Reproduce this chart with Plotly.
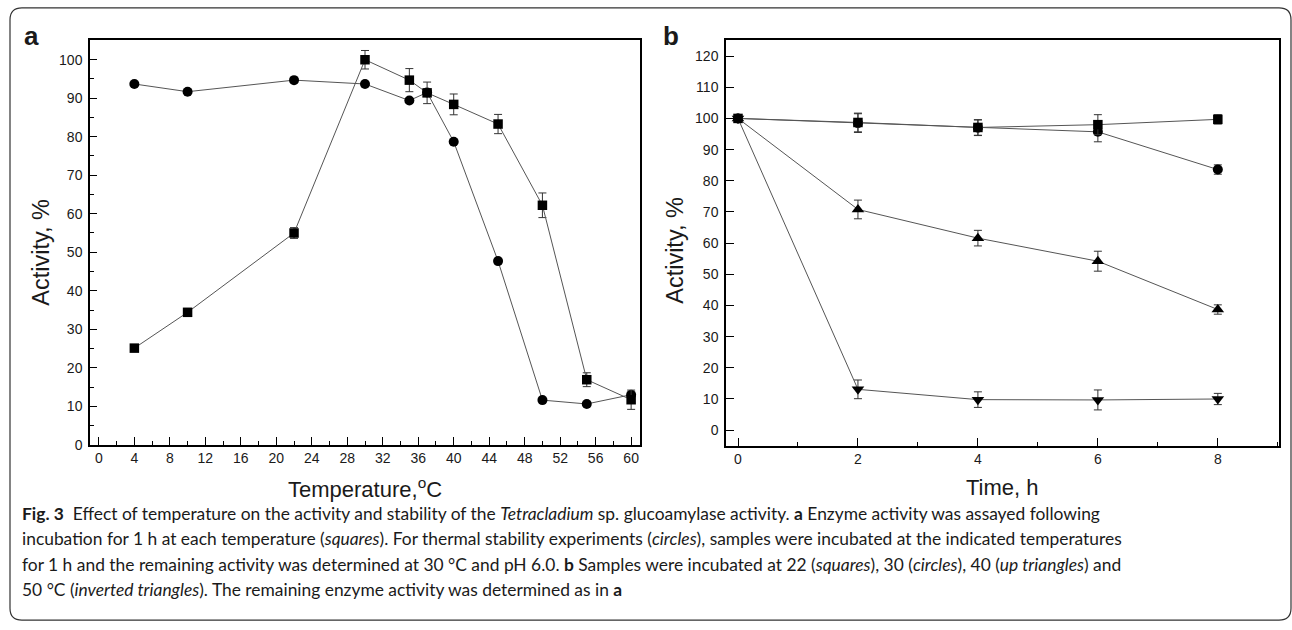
import plotly.graph_objects as go

# ---------------- data ----------------
temp_a = [4, 10, 22, 30, 35, 37, 40, 45, 50, 55, 60]
activity_squares = [25.1, 34.4, 55.0, 100.0, 94.7, 91.4, 88.4, 83.3, 62.2, 16.9, 11.7]
activity_squares_err = [0.6, 1.0, 1.4, 2.4, 3.0, 2.8, 2.7, 2.5, 3.2, 1.8, 2.5]
stability_circles = [93.7, 91.7, 94.7, 93.7, 89.4, 91.5, 78.7, 47.7, 11.6, 10.6, 13.0]

time_b = [0, 2, 4, 6, 8]
b_22 = [100.0, 98.7, 97.1, 98.0, 99.7]
b_22_err = [0.5, 3.0, 2.5, 3.2, 1.5]
b_30 = [100.0, 98.5, 97.0, 95.7, 83.6]
b_30_err = [0.5, 3.0, 2.5, 3.2, 1.5]
b_40 = [100.0, 70.8, 61.6, 54.2, 38.7]
b_40_err = [0.5, 3.0, 2.5, 3.2, 1.5]
b_50 = [100.0, 13.1, 9.8, 9.7, 10.0]
b_50_err = [0.5, 3.0, 2.5, 3.2, 1.8]

xticks_a = list(range(0, 61, 4))
yticks_a = list(range(0, 101, 10))
xticks_b = [0, 2, 4, 6, 8]
yticks_b = list(range(0, 121, 10))

W, H = 1292, 630
def px(x):
    return x / W
def py(y):
    return 1 - y / H

LINE = "#555555"
ERR = "#333333"
FONT = "Liberation Sans, Arial, sans-serif"

fig = go.Figure()

def add(x, y, err, symbol, size, xa, ya):
    eb = None
    if err is not None:
        eb = dict(type="data", array=err, visible=True, color=ERR, thickness=1, width=4)
    fig.add_trace(go.Scatter(
        x=x, y=y, mode="lines+markers", xaxis=xa, yaxis=ya,
        line=dict(color=LINE, width=1),
        marker=dict(symbol=symbol, size=size, color="black", line=dict(width=0)),
        error_y=eb, showlegend=False, cliponaxis=False))

# panel a
add(temp_a, stability_circles, None, "circle", 10, "x", "y")
add(temp_a, activity_squares, activity_squares_err, "square", 9.5, "x", "y")
# panel b
add(time_b, b_50, b_50_err, "triangle-down", 11, "x2", "y2")
add(time_b, b_40, b_40_err, "triangle-up", 11, "x2", "y2")
add(time_b, b_30, b_30_err, "circle", 10, "x2", "y2")
add(time_b, b_22, b_22_err, "square", 9.5, "x2", "y2")

axis_common = dict(
    showgrid=False, zeroline=False, showline=True, mirror=True,
    linecolor="black", linewidth=1.5, ticks="inside", tickcolor="black",
    tickwidth=1.2, tickfont=dict(family=FONT, size=14, color="#1a1a1a"),
)

fig.update_layout(
    width=W, height=H, margin=dict(l=0, r=0, t=0, b=0),
    paper_bgcolor="white", plot_bgcolor="white",
    font=dict(family=FONT, color="#1a1a1a"),
    xaxis=dict(domain=[px(90), px(640)], range=[-1, 61], anchor="y",
               tickvals=xticks_a, ticklen=8,
               minor=dict(dtick=2, ticklen=4, ticks="inside", tickcolor="black", tickwidth=1.2),
               **axis_common),
    yaxis=dict(domain=[py(450.5), py(41)], range=[0, 105], anchor="x",
               tickvals=yticks_a, ticklen=7, ticklabelstandoff=3,
               minor=dict(dtick=5, ticklen=4, ticks="inside", tickcolor="black", tickwidth=1.2),
               **axis_common),
    xaxis2=dict(domain=[px(726), px(1279)], range=[-0.2, 9.02], anchor="y2",
                tickvals=xticks_b, ticklen=8,
                minor=dict(dtick=1, ticklen=4, ticks="inside", tickcolor="black", tickwidth=1.2),
                **axis_common),
    yaxis2=dict(domain=[py(451.5), py(41)], range=[-5, 125], anchor="x2",
                tickvals=yticks_b, ticklen=8, ticklabelstandoff=3,
                **axis_common),
)

# rounded frame
r = 12
x0, y0, x1, y1 = 10, 8, 1291, 628
path = (f"M {px(x0)},{py(y0 + r)} Q {px(x0)},{py(y0)} {px(x0 + r)},{py(y0)} "
        f"L {px(x1 - r)},{py(y0)} Q {px(x1)},{py(y0)} {px(x1)},{py(y0 + r)} "
        f"L {px(x1)},{py(y1 - r)} Q {px(x1)},{py(y1)} {px(x1 - r)},{py(y1)} "
        f"L {px(x0 + r)},{py(y1)} Q {px(x0)},{py(y1)} {px(x0)},{py(y1 - r)} Z")
fig.add_shape(type="path", path=path, xref="paper", yref="paper",
              line=dict(color="#333333", width=1.2), fillcolor="rgba(0,0,0,0)", layer="below")

ann = []
def A(text, x, y, size, xanchor="center", textangle=0, family=FONT):
    ann.append(dict(text=text, x=px(x), y=py(y), xref="paper", yref="paper",
                    xanchor=xanchor, yanchor="middle", showarrow=False,
                    textangle=textangle, font=dict(family=family, size=size, color="#1a1a1a")))

A("<b>a</b>", 31, 36, 26)
A("<b>b</b>", 671, 36, 26)
A("Activity, %", 41, 256, 23.5, textangle=-90)
A("Activity, %", 675, 254, 23.5, textangle=-90)
A("Temperature,<sup>o</sup>C", 365, 494, 22)
A("Time, h", 1002, 494, 22)

CAP = "Lato, sans-serif"
cap_lines = [
    "<b>Fig. 3</b>  Effect of temperature on the activity and stability of the <i>Tetracladium</i> sp. glucoamylase activity. <b>a</b> Enzyme activity was assayed following",
    "incubation for 1 h at each temperature (<i>squares</i>). For thermal stability experiments (<i>circles</i>), samples were incubated at the indicated temperatures",
    "for 1 h and the remaining activity was determined at 30 °C and pH 6.0. <b>b</b> Samples were incubated at 22 (<i>squares</i>), 30 (<i>circles</i>), 40 (<i>up triangles</i>) and",
    "50 °C (<i>inverted triangles</i>). The remaining enzyme activity was determined as in <b>a</b>",
]
for i, t in enumerate(cap_lines):
    A(t, 20, 520 + 25.7 * i, 17.4, xanchor="left", family=CAP)

fig.update_layout(annotations=ann)
fig.write_html("out.html")
